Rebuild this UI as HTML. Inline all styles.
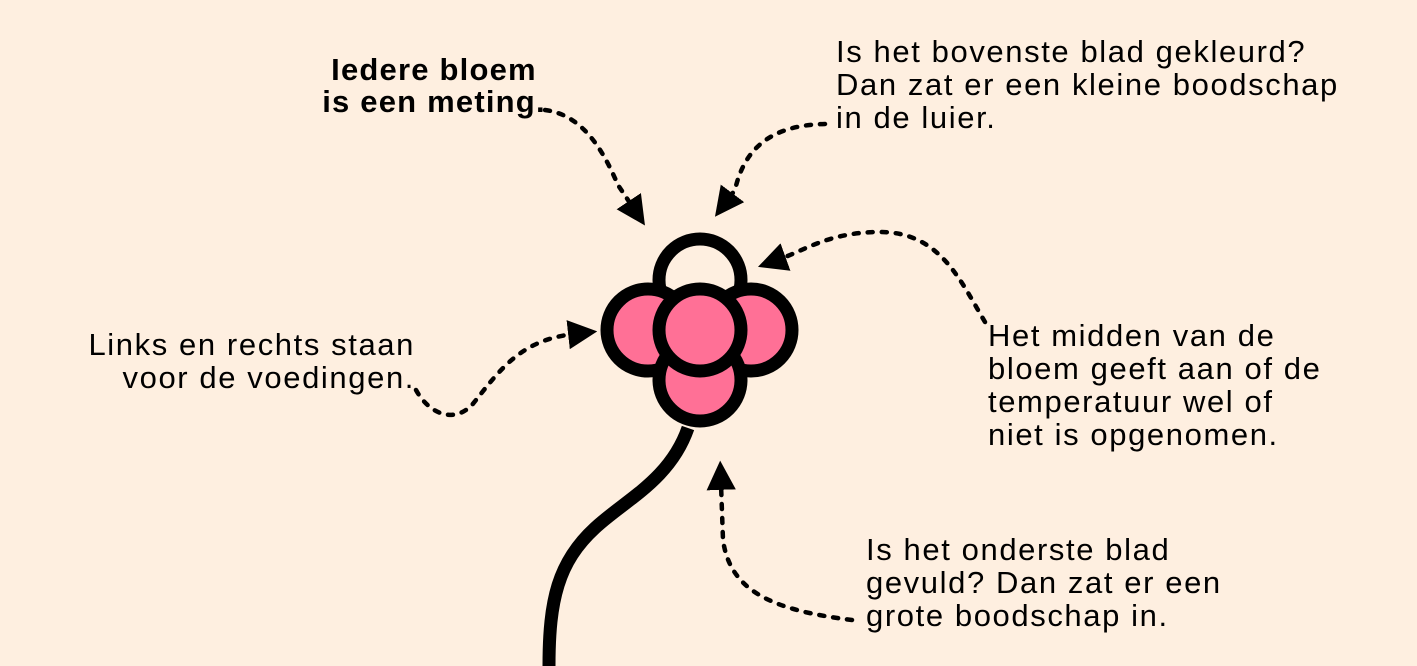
<!DOCTYPE html>
<html><head><meta charset="utf-8"><style>
html,body{margin:0;padding:0;background:#FEEFE0;}
svg{display:block}
text{font-family:"Liberation Sans",sans-serif;font-size:31px;fill:#000;letter-spacing:1.6px}
</style></head><body>
<svg width="1417" height="666" viewBox="0 0 1417 666" xmlns="http://www.w3.org/2000/svg">
<defs>
<marker id="ah" viewBox="0 0 10 10" refX="2" refY="5" markerWidth="6.5" markerHeight="6.5" orient="auto" markerUnits="strokeWidth">
<path d="M0,0 L10,5 L0,10 z" fill="#000"/>
</marker>
</defs>
<rect width="1417" height="666" fill="#FEEFE0"/>
<g fill="none" stroke="#000" stroke-width="4.5" stroke-linecap="round" stroke-dasharray="5 9" marker-end="url(#ah)">
<path d="M545,110 C585,115 605,155 618,185 L632,206"/>
<path d="M825,124 C775,125 745,145 735,190 L729,198"/>
<path d="M985,322 C960,280 940,232 880,232 C830,232 805,250 780,259"/>
<path d="M416,390 C428,412 452,425 472,405 C500,370 520,340 574,334"/>
<path d="M852,620 C770,610 730,590 723,540 L721,484"/>
</g>
<path d="M688,428 C670,480 625,500 595,528 C558,562 549,600 549,666" fill="none" stroke="#000" stroke-width="13"/>
<g stroke="#000" stroke-width="13">
<circle cx="700" cy="280" r="41" fill="#FEEFE0"/>
<circle cx="648" cy="330" r="41" fill="#FF7096"/>
<circle cx="751" cy="330" r="41" fill="#FF7096"/>
<circle cx="700" cy="380" r="41" fill="#FF7096"/>
<circle cx="700" cy="330" r="41" fill="#FF7096"/>
</g>
<text x="434" y="80" text-anchor="middle" font-weight="bold" style="letter-spacing:1.2px">Iedere bloem</text>
<text x="434" y="112" text-anchor="middle" font-weight="bold" style="letter-spacing:1.2px">is een meting.</text>
<text x="836" y="62">Is het bovenste blad gekleurd?</text>
<text x="836" y="95">Dan zat er een kleine boodschap</text>
<text x="836" y="128">in de luier.</text>
<text x="988" y="346">Het midden van de</text>
<text x="988" y="379">bloem geeft aan of de</text>
<text x="988" y="412">temperatuur wel of</text>
<text x="988" y="445">niet is opgenomen.</text>
<text x="415" y="355" text-anchor="end">Links en rechts staan</text>
<text x="415" y="388" text-anchor="end">voor de voedingen.</text>
<text x="866" y="560">Is het onderste blad</text>
<text x="866" y="593">gevuld? Dan zat er een</text>
<text x="866" y="626">grote boodschap in.</text>
</svg>
</body></html>
